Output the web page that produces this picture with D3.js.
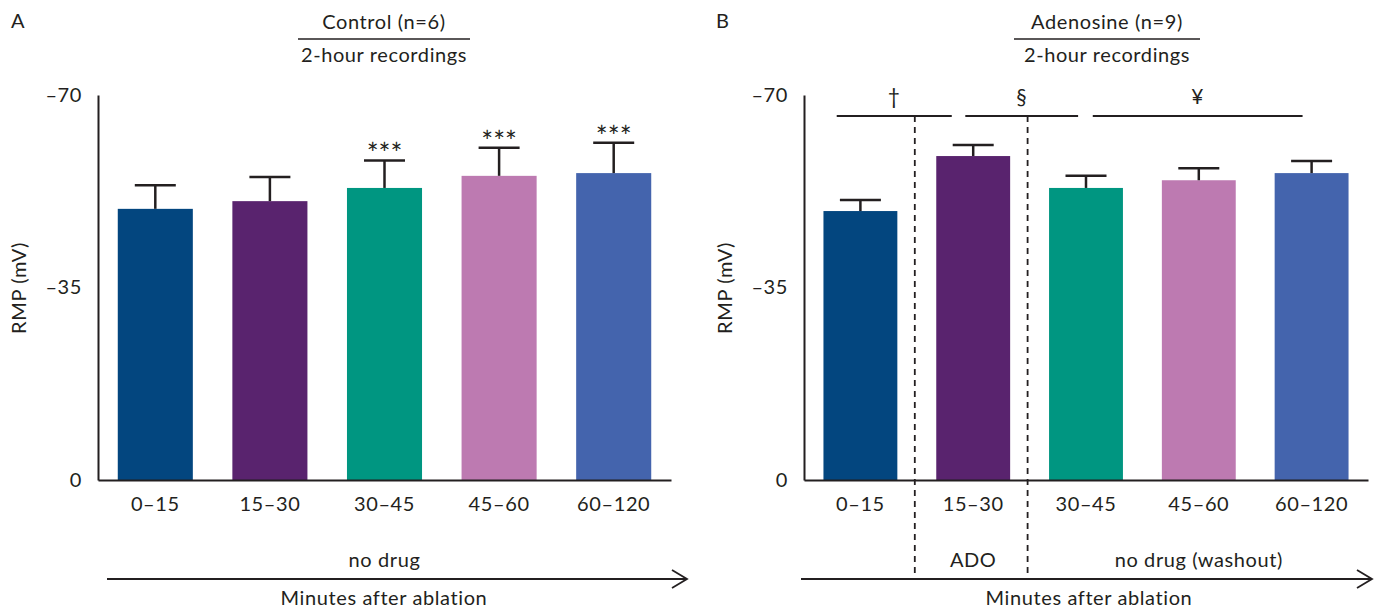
<!DOCTYPE html>
<html>
<head>
<meta charset="utf-8">
<script src="https://cdn.jsdelivr.net/npm/d3@7"></script>
<style>
  body { margin: 0; background: #fff; }
  svg text { font-family: Lato, "Open Sans", sans-serif; fill: #231f20; letter-spacing: 0.6px; }
</style>
</head>
<body>
<script>
// data (RMP in mV, mean and SEM)
var categories = ["0–15", "15–30", "30–45", "45–60", "60–120"];
var controlMean = [-49.3, -50.7, -53.1, -55.3, -55.8];
var controlSem  = [4.3, 4.4, 5.0, 5.1, 5.5];
var controlStars = ["", "", "***", "***", "***"];
var adoMean = [-48.9, -58.9, -53.1, -54.5, -55.8];
var adoSem  = [2.0, 2.0, 2.2, 2.2, 2.2];
var yTicks = [0, -35, -70];
var barColors = ["#03467f", "#59236e", "#009681", "#bd7ab1", "#4464ad"];
var sigLabels = ["†", "§", "¥"];

var W = 1378, H = 610;
var ink = "#231f20";
var fs = 20;

var svg = d3.select("body").append("svg")
    .attr("width", W)
    .attr("height", H);

function fmtTick(d) {
    return d === 0 ? "0" : "–" + Math.abs(d);
}

// draws one panel, returns scales
function drawPanel(p) {
    var g = svg.append("g");

    var x = d3.scaleBand()
        .domain(categories)
        .range([p.left, p.right])
        .paddingInner(0.345)
        .paddingOuter(0.1725);

    var y = d3.scaleLinear()
        .domain([0, -70])
        .range([480, 95]);

    // y axis
    var ya = g.append("g")
        .attr("transform", "translate(" + p.left + ",0)")
        .call(d3.axisLeft(y).tickValues(yTicks).tickSize(0).tickSizeOuter(0).tickPadding(16).tickFormat(fmtTick));
    ya.select(".domain").attr("stroke", ink).attr("stroke-width", 2);
    ya.selectAll("text").attr("font-size", fs).attr("font-family", null).style("fill", ink);

    // bars
    g.selectAll("rect.bar")
        .data(p.mean)
        .enter()
        .append("rect")
        .attr("class", "bar")
        .attr("x", function(d, i) { return x(categories[i]); })
        .attr("y", function(d) { return y(d); })
        .attr("width", x.bandwidth())
        .attr("height", function(d) { return y(0) - y(d); })
        .attr("fill", function(d, i) { return barColors[i]; });

    // error bars
    var eb = g.selectAll("g.err")
        .data(p.mean)
        .enter()
        .append("g")
        .attr("class", "err")
        .attr("stroke", ink)
        .attr("stroke-width", 2.5);
    eb.append("line")
        .attr("x1", function(d, i) { return x(categories[i]) + x.bandwidth() / 2; })
        .attr("x2", function(d, i) { return x(categories[i]) + x.bandwidth() / 2; })
        .attr("y1", function(d) { return y(d); })
        .attr("y2", function(d, i) { return y(d - p.sem[i]); });
    eb.append("line")
        .attr("x1", function(d, i) { return x(categories[i]) + x.bandwidth() / 2 - 20.5; })
        .attr("x2", function(d, i) { return x(categories[i]) + x.bandwidth() / 2 + 20.5; })
        .attr("y1", function(d, i) { return y(d - p.sem[i]); })
        .attr("y2", function(d, i) { return y(d - p.sem[i]); });

    // x axis
    var xa = g.append("g")
        .attr("transform", "translate(0," + y(0) + ")")
        .call(d3.axisBottom(x).tickSize(0).tickSizeOuter(0).tickPadding(17));
    xa.select(".domain").attr("stroke", ink).attr("stroke-width", 2);
    xa.selectAll("text").attr("font-size", fs).attr("font-family", null).style("fill", ink);

    // y title
    g.append("text")
        .attr("transform", "translate(" + (p.left - 72) + ",288) rotate(-90)")
        .attr("text-anchor", "middle")
        .attr("font-size", fs)
        .text("RMP (mV)");

    // panel letter
    g.append("text")
        .attr("x", p.letterX)
        .attr("y", 28)
        .attr("font-size", fs)
        .text(p.letter);

    // header
    g.append("text")
        .attr("x", p.titleX)
        .attr("y", 29)
        .attr("text-anchor", "middle")
        .attr("font-size", fs)
        .text(p.title);
    g.append("line")
        .attr("x1", p.titleX - p.titleHalf)
        .attr("x2", p.titleX + p.titleHalf)
        .attr("y1", 39).attr("y2", 39)
        .attr("stroke", ink).attr("stroke-width", 1.5);
    g.append("text")
        .attr("x", p.titleX)
        .attr("y", 62)
        .attr("text-anchor", "middle")
        .attr("font-size", fs)
        .text("2-hour recordings");

    // time arrow
    var ay = 579;
    g.append("line")
        .attr("x1", p.arrowFrom).attr("x2", p.arrowTo)
        .attr("y1", ay).attr("y2", ay)
        .attr("stroke", ink).attr("stroke-width", 1.8);
    g.append("path")
        .attr("d", "M" + (p.arrowTo - 15) + "," + (ay - 9) + "L" + p.arrowTo + "," + ay + "L" + (p.arrowTo - 15) + "," + (ay + 9))
        .attr("fill", "none")
        .attr("stroke", ink).attr("stroke-width", 1.8);
    g.append("text")
        .attr("x", p.footX)
        .attr("y", 605)
        .attr("text-anchor", "middle")
        .attr("font-size", fs)
        .text("Minutes after ablation");

    return { g: g, x: x, y: y };
}

// ---- panel A ----
var A = drawPanel({
    left: 98, right: 671,
    mean: controlMean, sem: controlSem,
    letter: "A", letterX: 11,
    title: "Control (n=6)", titleX: 384, titleHalf: 86,
    arrowFrom: 107, arrowTo: 687, footX: 384
});

A.g.selectAll("text.star")
    .data(controlStars)
    .enter()
    .append("text")
    .attr("class", "star")
    .attr("x", function(d, i) { return A.x(categories[i]) + A.x.bandwidth() / 2; })
    .attr("y", function(d, i) { return A.y(controlMean[i] - controlSem[i]) + 4; })
    .attr("text-anchor", "middle")
    .attr("font-size", 28)
    .style("letter-spacing", "0px")
    .text(function(d) { return d; });

A.g.append("text")
    .attr("x", A.x(categories[2]) + A.x.bandwidth() / 2)
    .attr("y", 567)
    .attr("text-anchor", "middle")
    .attr("font-size", fs)
    .text("no drug");

// ---- panel B ----
var B = drawPanel({
    left: 804, right: 1368,
    mean: adoMean, sem: adoSem,
    letter: "B", letterX: 716,
    title: "Adenosine (n=9)", titleX: 1107, titleHalf: 93,
    arrowFrom: 801, arrowTo: 1372, footX: 1089
});

var step = B.x.step();
function cx(i) { return B.x(categories[0]) + B.x.bandwidth() / 2 + i * step; }

// significance lines, spans in category-index units
var sigSpans = [[-0.21, 0.81], [0.93, 1.93], [2.06, 3.92]];
var sigY = B.y(-66.2);

var sg = B.g.selectAll("g.sig")
    .data(sigLabels)
    .enter()
    .append("g")
    .attr("class", "sig");
sg.append("line")
    .attr("x1", function(d, i) { return cx(sigSpans[i][0]); })
    .attr("x2", function(d, i) { return cx(sigSpans[i][1]); })
    .attr("y1", sigY).attr("y2", sigY)
    .attr("stroke", ink).attr("stroke-width", 2);
sg.append("text")
    .attr("x", function(d, i) { return cx((sigSpans[i][0] + sigSpans[i][1]) / 2); })
    .attr("y", sigY - 12)
    .attr("text-anchor", "middle")
    .attr("font-size", 21)
    .text(function(d) { return d; });

// dashed phase separators between 0–15|15–30 and 15–30|30–45
[0.5, 1.5].forEach(function(pos) {
    B.g.append("line")
        .attr("x1", cx(pos) - 2).attr("x2", cx(pos) - 2)
        .attr("y1", sigY).attr("y2", 579)
        .attr("stroke", ink).attr("stroke-width", 1.8)
        .attr("stroke-dasharray", "6,5");
});

B.g.append("text")
    .attr("x", cx(1))
    .attr("y", 567)
    .attr("text-anchor", "middle")
    .attr("font-size", fs)
    .text("ADO");
B.g.append("text")
    .attr("x", cx(3))
    .attr("y", 567)
    .attr("text-anchor", "middle")
    .attr("font-size", fs)
    .text("no drug (washout)");
</script>
</body>
</html>
